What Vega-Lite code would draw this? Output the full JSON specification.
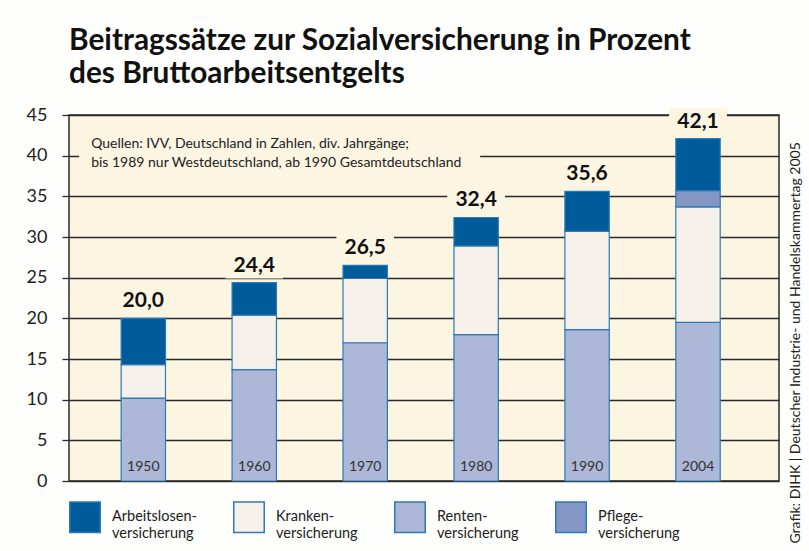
{
  "$schema": "https://vega.github.io/schema/vega-lite/v6.json",
  "width": 710,
  "height": 366,
  "autosize": {"type": "none"},
  "padding": {"left": 69, "top": 115, "right": 30, "bottom": 70},
  "background": "#fefefc",
  "config": {
    "locale": {"number": {"decimal": ",", "thousands": ".", "grouping": [3], "currency": ["", " €"]}},
    "font": "Lato",
    "view": {"fill": "#fbf5e1", "stroke": "#2a2a2a", "strokeWidth": 1.5},
    "style": {"guide-label": {"lineHeight": 17}}
  },
  "title": {
    "text": ["Beitragssätze zur Sozialversicherung in Prozent", "des Bruttoarbeitsentgelts"],
    "anchor": "start",
    "frame": "group",
    "font": "Lato",
    "fontSize": 29.8,
    "fontWeight": "bold",
    "color": "#111111",
    "lineHeight": 33,
    "baseline": "bottom",
    "offset": 22,
    "dy": 35
  },
  "datasets": {
    "segmente": [
      {"jahr": "1950", "typ": "Rentenversicherung", "wert": 10.2},
      {"jahr": "1950", "typ": "Krankenversicherung", "wert": 4.1},
      {"jahr": "1950", "typ": "Arbeitslosenversicherung", "wert": 5.7},
      {"jahr": "1960", "typ": "Rentenversicherung", "wert": 13.7},
      {"jahr": "1960", "typ": "Krankenversicherung", "wert": 6.7},
      {"jahr": "1960", "typ": "Arbeitslosenversicherung", "wert": 4.0},
      {"jahr": "1970", "typ": "Rentenversicherung", "wert": 17.0},
      {"jahr": "1970", "typ": "Krankenversicherung", "wert": 7.9},
      {"jahr": "1970", "typ": "Arbeitslosenversicherung", "wert": 1.6},
      {"jahr": "1980", "typ": "Rentenversicherung", "wert": 18.0},
      {"jahr": "1980", "typ": "Krankenversicherung", "wert": 10.9},
      {"jahr": "1980", "typ": "Arbeitslosenversicherung", "wert": 3.5},
      {"jahr": "1990", "typ": "Rentenversicherung", "wert": 18.6},
      {"jahr": "1990", "typ": "Krankenversicherung", "wert": 12.1},
      {"jahr": "1990", "typ": "Arbeitslosenversicherung", "wert": 4.9},
      {"jahr": "2004", "typ": "Rentenversicherung", "wert": 19.5},
      {"jahr": "2004", "typ": "Krankenversicherung", "wert": 14.2},
      {"jahr": "2004", "typ": "Pflegeversicherung", "wert": 2.0},
      {"jahr": "2004", "typ": "Arbeitslosenversicherung", "wert": 6.4}
    ],
    "summen": [
      {"jahr": "1950", "gesamt": 20.0},
      {"jahr": "1960", "gesamt": 24.4},
      {"jahr": "1970", "gesamt": 26.5},
      {"jahr": "1980", "gesamt": 32.4},
      {"jahr": "1990", "gesamt": 35.6},
      {"jahr": "2004", "gesamt": 42.1}
    ]
  },
  "resolve": {"scale": {"y": "shared", "x": "shared"}, "axis": {"y": "independent"}},
  "layer": [
    {
      "data": {"name": "segmente"},
      "transform": [
        {"calculate": "indexof(['Rentenversicherung','Krankenversicherung','Pflegeversicherung','Arbeitslosenversicherung'], datum.typ)", "as": "ord"}
      ],
      "mark": {"type": "bar", "stroke": "#2d7ab6", "strokeWidth": 1.2},
      "encoding": {
        "x": {
          "field": "jahr", "type": "nominal",
          "scale": {"paddingInner": 0.6, "paddingOuter": 0.5, "align": 0.47},
          "axis": null
        },
        "y": {
          "field": "wert", "type": "quantitative", "aggregate": "sum", "stack": "zero",
          "scale": {"domain": [0, 45], "nice": false},
          "axis": {
            "orient": "left", "title": null, "values": [0, 5, 10, 15, 20, 25, 30, 35, 40, 45],
            "labelFontSize": 18, "labelColor": "#222222", "labelFont": "Lato",
            "labelPadding": 15, "tickSize": 7, "tickColor": "#2a2a2a", "tickWidth": 1.3,
            "domain": false, "grid": true, "gridColor": "#2a2a2a", "gridWidth": 1.3, "gridOpacity": 1
          }
        },
        "color": {
          "field": "typ", "type": "nominal",
          "scale": {
            "domain": ["Arbeitslosenversicherung", "Krankenversicherung", "Rentenversicherung", "Pflegeversicherung"],
            "range": ["#005b9b", "#f6f0ea", "#adb7d8", "#8497c4"]
          },
          "legend": {
            "title": null, "orient": "none", "legendX": 0, "legendY": 386,
            "direction": "horizontal", "columns": 4, "columnPadding": 33,
            "symbolType": "square", "symbolSize": 930, "symbolStrokeColor": "#2d7ab6", "symbolStrokeWidth": 1.5,
            "symbolOpacity": 1,
            "labelFont": "Lato", "labelFontSize": 14.5, "labelColor": "#222222", "labelOffset": 11,
            "labelLimit": 200,
            "labelExpr": "split(replace(datum.label, 'versicherung', '-|versicherung'), '|')"
          }
        },
        "order": {"field": "ord", "type": "quantitative"}
      }
    },
    {
      "data": {"name": "summen"},
      "mark": {"type": "bar", "color": "#fbf5e1", "yOffset": -4, "y2Offset": -30, "width": {"band": 1.3}},
      "encoding": {
        "x": {"field": "jahr", "type": "nominal", "axis": null},
        "y": {"field": "gesamt", "type": "quantitative", "axis": null},
        "y2": {"field": "gesamt"}
      }
    },
    {
      "data": {"name": "summen"},
      "mark": {"type": "text", "font": "Lato", "fontSize": 21, "fontWeight": "bold", "color": "#111111", "baseline": "alphabetic", "dy": -11},
      "encoding": {
        "x": {"field": "jahr", "type": "nominal", "axis": null},
        "y": {
          "field": "gesamt", "type": "quantitative",
          "axis": {
            "orient": "right", "title": "Grafik: DIHK | Deutscher Industrie- und Handelskammertag 2005",
            "labels": false, "ticks": false, "domain": false, "grid": false,
            "titleAngle": 270, "titleX": 16, "titleY": 428, "titleAlign": "left", "titleBaseline": "middle",
            "titleFont": "Lato", "titleFontSize": 14, "titleFontWeight": "normal", "titleColor": "#222222"
          }
        },
        "text": {"field": "gesamt", "type": "quantitative", "format": ".1f"}
      }
    },
    {
      "data": {"name": "summen"},
      "mark": {"type": "text", "font": "Lato", "fontSize": 14, "color": "#333333", "baseline": "alphabetic", "dy": -10},
      "encoding": {
        "x": {"field": "jahr", "type": "nominal", "axis": null},
        "y": {"datum": 0, "axis": null},
        "text": {"field": "jahr"}
      }
    },
    {
      "data": {"values": [{}]},
      "mark": {"type": "rect", "color": "#fbf5e1", "xOffset": -42, "x2Offset": 4},
      "encoding": {
        "x": {"datum": "1950", "bandPosition": 0, "axis": null},
        "x2": {"datum": "1980", "bandPosition": 0.5},
        "y": {"datum": 38.5, "axis": null},
        "y2": {"datum": 43}
      }
    },
    {
      "data": {"values": [{}]},
      "mark": {"type": "text", "font": "Lato", "fontSize": 14, "color": "#222222", "align": "left", "baseline": "alphabetic", "dx": -30, "lineHeight": 19},
      "encoding": {
        "x": {"datum": "1950", "bandPosition": 0, "axis": null},
        "y": {"datum": 41, "axis": null},
        "text": {"value": ["Quellen: IVV, Deutschland in Zahlen, div. Jahrgänge;", "bis 1989 nur Westdeutschland, ab 1990 Gesamtdeutschland"]}
      }
    }
  ]
}
